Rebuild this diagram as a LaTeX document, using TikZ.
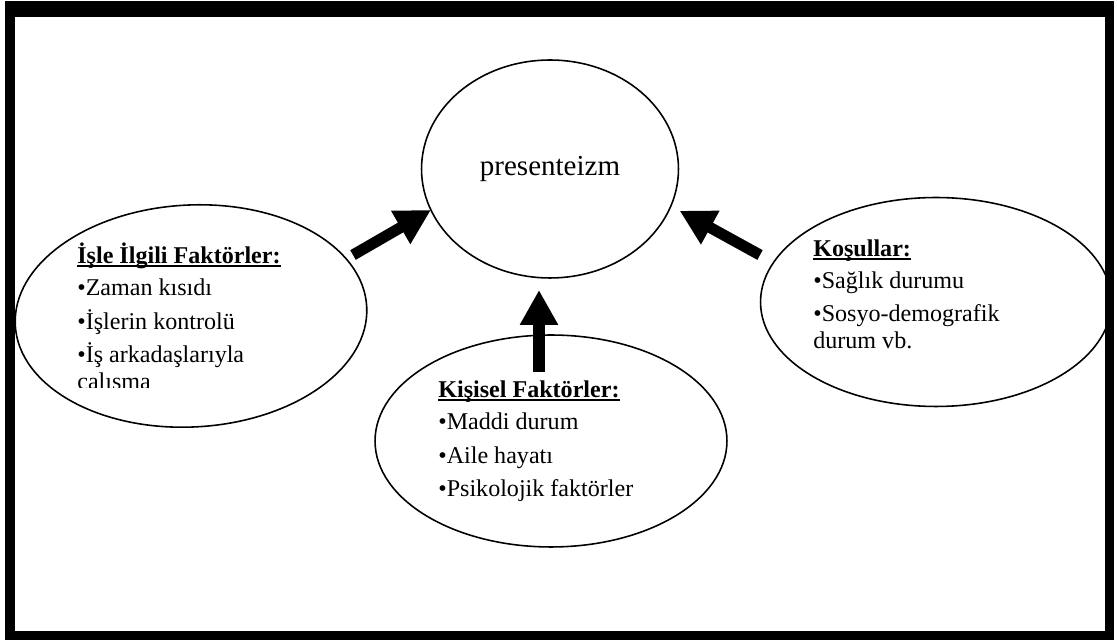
\documentclass[tikz,border=0pt]{standalone}
\usepackage{fontspec}
\setmainfont{Liberation Serif}
\usetikzlibrary{arrows.meta,shapes.geometric}

\newcommand\headul[1]{\setbox0=\hbox{\bfseries #1}\rlap{\rule[-2.4pt]{\wd0}{1.1pt}}\box0}

\begin{document}
\begin{tikzpicture}[x=0.02cm,y=-0.02cm,
  oval/.style={draw=black,line width=0.9pt,ellipse,inner sep=0pt,outer sep=0pt},
  txtblock/.style={align=left,inner sep=0pt,anchor=base west,font=\fontsize{13.7pt}{15.4pt}\selectfont},
  bigarrow/.style={draw=black,line width=6.3pt,-{Triangle[length=0.7cm,width=0.72cm]}}]
  \useasboundingbox (0,0) rectangle (1117,641);
  % frame
  \fill[black] (5,1) rectangle (1114,640);
  \fill[white] (15,17) rectangle (1105,631);

  \node[oval,minimum width=5.14cm,minimum height=4.36cm,font=\fontsize{16.5pt}{19pt}\selectfont] (pres) at (550,169) {presenteizm};
  \node[oval,minimum width=7.04cm,minimum height=4.44cm,rotate=3] (isle) at (191,316) {};
  \node[oval,minimum width=7.04cm,minimum height=4.24cm] (kisi) at (551,441) {};
  \node[oval,minimum width=7.02cm,minimum height=4.18cm] (kos) at (936,302) {};

  % arrows into presenteizm
  \coordinate (isle-out) at (353,255);
  \coordinate (kos-out) at (760,255);
  \coordinate (kisi-out) at (539,372);
  \draw[bigarrow] (isle-out) -- (pres.199);
  \draw[bigarrow,shorten >=0.2cm] (kos-out) -- (pres.343);
  \draw[bigarrow,shorten >=0.24cm] (kisi-out) -- (kisi-out |- pres.south);

  % text blocks (base = last line)
  \begin{scope}
    \clip (20,190) rectangle (370,388);
    \node[txtblock] (isle-txt) at (77,390) {\headul{İşle İlgili Faktörler:}\\[2.8pt] •Zaman kısıdı\\[3.9pt] •İşlerin kontrolü\\[3.9pt] •İş arkadaşlarıyla\\ çalışma};
  \end{scope}
  \node[txtblock] (kisi-txt) at (438,497) {\headul{Kişisel Faktörler:}\\[2.8pt] •Maddi durum\\[3.9pt] •Aile hayatı\\[3.9pt] •Psikolojik faktörler};
  \node[txtblock] (kos-txt) at (813,349) {\headul{Koşullar:}\\[2.8pt] •Sağlık durumu\\[3.9pt] •Sosyo-demografik\\ durum vb.};
\end{tikzpicture}
\end{document}
